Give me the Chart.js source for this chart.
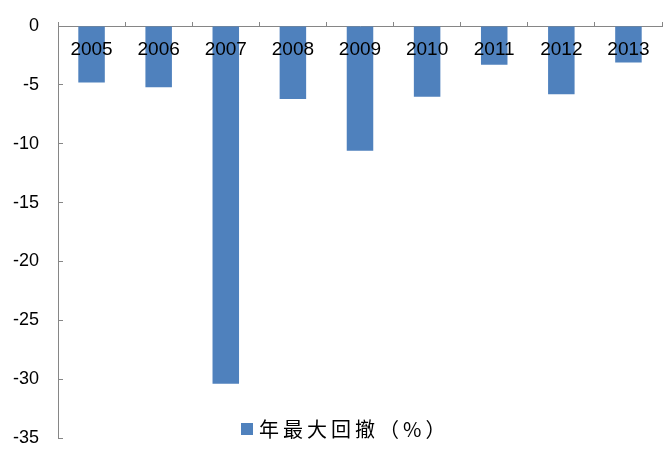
<!DOCTYPE html>
<html>
<head>
<meta charset="utf-8">
<script src="https://cdn.jsdelivr.net/npm/chart.js@4"></script>
<style>
html,body{margin:0;padding:0;background:#fff;}
#wrap{width:672px;height:456px;}
</style>
</head>
<body>
<div id="wrap"><canvas id="c" width="672" height="456"></canvas></div>
<script>
const categories = ['2005','2006','2007','2008','2009','2010','2011','2012','2013'];
const drawdown = [-4.8, -5.2, -30.4, -6.2, -10.6, -6.0, -3.3, -5.8, -3.1];
const seriesName = '年最大回撤（%）';
const yMin = -35, yMax = 0, yStep = 5;

const axisColor = '#868686';
const barColor = '#4F81BD';

const legendPlugin = {
  id: 'customLegend',
  afterDraw(chart) {
    const ctx = chart.ctx;
    const ds = chart.data.datasets[0];
    ctx.save();
    ctx.fillStyle = ds.backgroundColor;
    ctx.fillRect(241, 423, 12, 12);
    ctx.fillStyle = '#000';
    ctx.font = '20px "Noto Sans CJK SC"';
    if ('letterSpacing' in ctx) ctx.letterSpacing = '4px';
    ctx.textBaseline = 'middle';
    ctx.textAlign = 'left';
    ctx.fillText(ds.label, 259, 429);
    ctx.restore();
  }
};

new Chart(document.getElementById('c'), {
  type: 'bar',
  data: {
    labels: categories,
    datasets: [{
      label: seriesName,
      data: drawdown,
      backgroundColor: barColor,
      borderWidth: 0,
      barPercentage: 0.79,
      categoryPercentage: 0.5
    }]
  },
  options: {
    responsive: false,
    animation: false,
    devicePixelRatio: 1,
    layout: { padding: { left: 0, top: 0, right: 10, bottom: 18 } },
    plugins: { legend: { display: false }, tooltip: { enabled: false } },
    scales: {
      x: {
        position: 'top',
        offset: true,
        grid: { drawOnChartArea: false, tickLength: 4, color: axisColor, lineWidth: 1 },
        border: { color: axisColor, width: 1 },
        ticks: {
          z: 1,
          mirror: true,
          autoSkip: false,
          maxRotation: 0,
          padding: 12,
          color: '#000',
          font: { family: '"Liberation Sans", Arial, sans-serif', size: 19 }
        },
        afterFit(scale) { scale.height = 26; scale.paddingLeft = 0; scale.paddingRight = 0; }
      },
      y: {
        min: yMin,
        max: yMax,
        grid: { drawOnChartArea: false, tickLength: -5, color: axisColor, lineWidth: 1 },
        border: { color: axisColor, width: 1 },
        ticks: {
          stepSize: yStep,
          padding: 24,
          color: '#000',
          font: { family: '"Liberation Sans", Arial, sans-serif', size: 18 }
        },
        afterFit(scale) { scale.width = 58; scale.paddingTop = 0; scale.paddingBottom = 0; }
      }
    }
  },
  plugins: [legendPlugin]
});
</script>
</body>
</html>
